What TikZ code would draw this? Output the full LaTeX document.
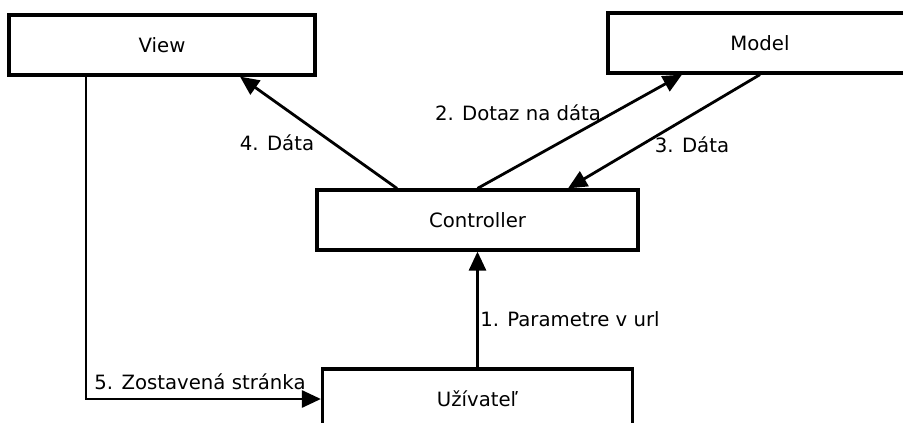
\documentclass[tikz,border=0pt]{standalone}
\usepackage{fontspec}
\setmainfont{DejaVu Sans}
\usetikzlibrary{arrows.meta}
\tikzset{
  box/.style={draw, line width=3.2pt, rectangle, inner sep=0pt, minimum height=60pt, font=\fontsize{19.7}{23}\selectfont},
  arr/.style={line width=2.8pt, -{Triangle[length=19pt,width=17pt]}},
  lbl/.style={inner sep=0pt, font=\fontsize{19.7}{23}\selectfont, anchor=center}
}
\begin{document}
\begin{tikzpicture}[x=1pt,y=-1pt]
\clip (0,0) rectangle (903,423);
\fill[white] (0,0) rectangle (903,423);
\node[box, minimum width=306pt] (view) at (162,45) {View};
\node[box, minimum width=304pt] (model) at (760,43) {Model};
\node[box, minimum width=321pt] (ctrl) at (477.5,220) {Controller};
\node[box, minimum width=310pt] (user) at (477.5,399) {Užívateľ};
\draw[arr] (ctrl.north -| 397,0) -- (view.south -| 240,0);
\draw[arr] (ctrl.north) -- (model.south -| 682,0);
\draw[arr] (model.south) -- (ctrl.north -| 568,0);
\draw[arr] (user.north) -- (ctrl.south);
\draw[arr] (view.south -| 86,0) |- (user.west);
\node[lbl] (l4) at (277,143) {4. Dáta};
\node[lbl] (l2) at (518,113) {2. Dotaz na dáta};
\node[lbl] (l3) at (692,145) {3. Dáta};
\node[lbl] (l1) at (570,319) {1. Parametre v url};
\node[lbl] (l5) at (200,382) {5. Zostavená stránka};
\end{tikzpicture}
\end{document}
